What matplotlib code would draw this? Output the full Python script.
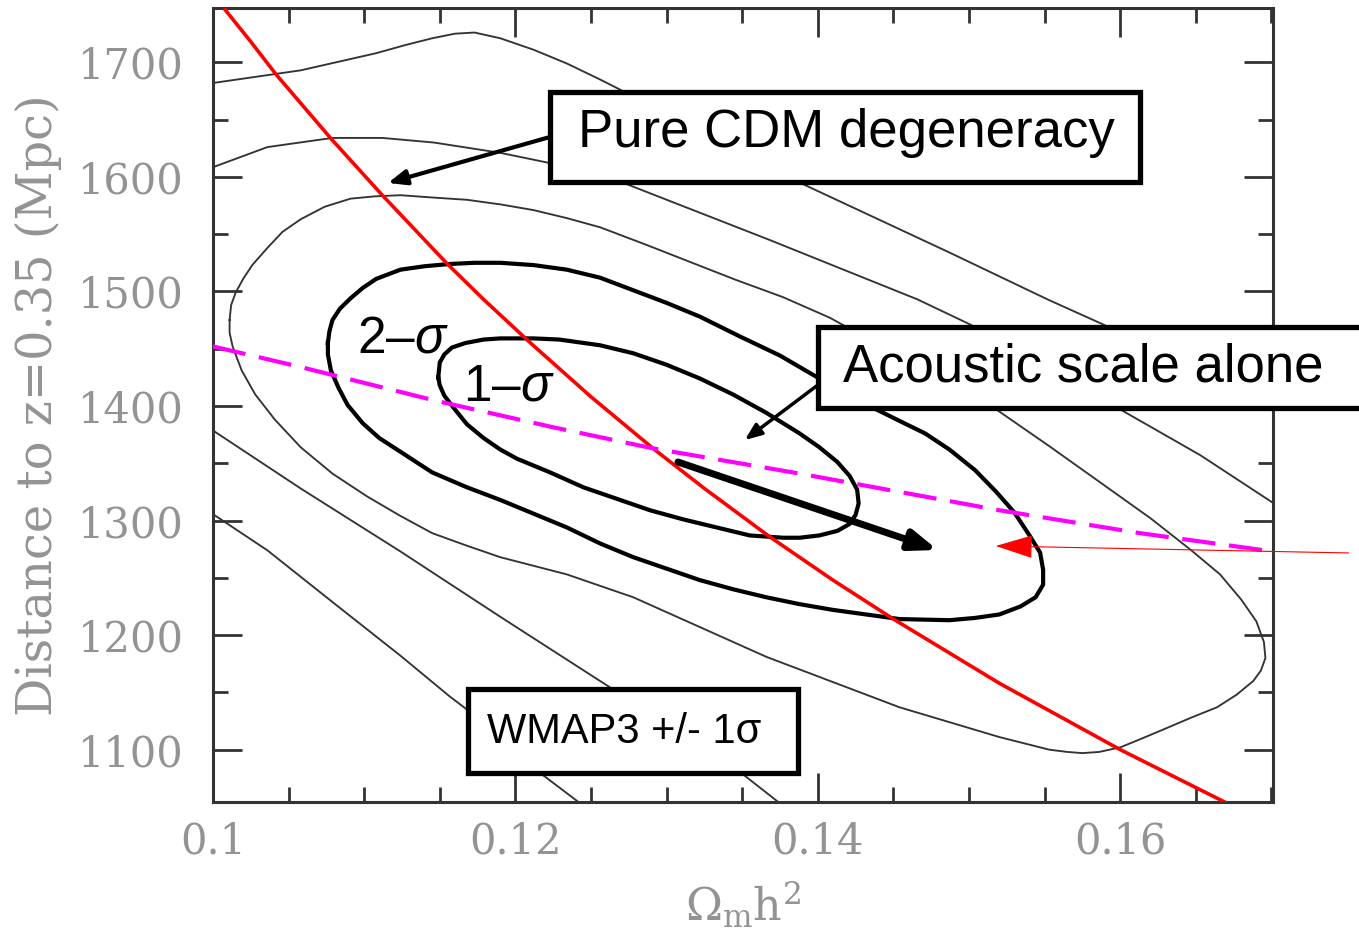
import matplotlib.pyplot as plt
from matplotlib.patches import Rectangle, FancyArrowPatch
from matplotlib.ticker import MultipleLocator

# WMAP3 likelihood contours in the (Omega_m h^2, D_V(z=0.35)) plane
sig1_x = [0.1149, 0.1150, 0.1153, 0.1158, 0.1167, 0.1179, 0.1190, 0.1212, 0.1229,
          0.1256, 0.1278, 0.1300, 0.1322, 0.1344, 0.1366, 0.1388, 0.1401, 0.1413,
          0.1421, 0.1426, 0.1427, 0.1425, 0.1421, 0.1413, 0.1401, 0.1388, 0.1377,
          0.1355, 0.1333, 0.1311, 0.1289, 0.1267, 0.1245, 0.1223, 0.1201, 0.1190,
          0.1179, 0.1168, 0.1160, 0.1153, 0.1150, 0.1149]
sig1_y = [1425, 1438, 1445, 1451, 1455, 1458, 1459, 1459, 1458,
          1453, 1446, 1436, 1424, 1410, 1394, 1376, 1364, 1351,
          1339, 1327, 1315, 1305, 1297, 1291, 1287, 1285, 1285,
          1287, 1294, 1301, 1309, 1319, 1329, 1342, 1354, 1362,
          1372, 1384, 1397, 1409, 1418, 1425]

sig2_x = [0.1076, 0.1077, 0.1079, 0.1084, 0.1091, 0.1099, 0.1108, 0.1124, 0.1140,
          0.1157, 0.1173, 0.1190, 0.1212, 0.1234, 0.1256, 0.1278, 0.1300, 0.1322,
          0.1348, 0.1375, 0.1401, 0.1428, 0.1454, 0.1471, 0.1487, 0.1504, 0.1518,
          0.1530, 0.1540, 0.1547, 0.1549, 0.1549, 0.1544, 0.1534, 0.1520, 0.1504,
          0.1487, 0.1454, 0.1432, 0.1410, 0.1388, 0.1366, 0.1344, 0.1322, 0.1300,
          0.1278, 0.1256, 0.1234, 0.1212, 0.1190, 0.1168, 0.1145, 0.1124, 0.1110,
          0.1099, 0.1089, 0.1083, 0.1078, 0.1076, 0.1076]
sig2_y = [1455, 1465, 1475, 1485, 1494, 1503, 1511, 1519, 1522,
          1524, 1525, 1525, 1523, 1519, 1512, 1501, 1490, 1478,
          1461, 1444, 1424, 1404, 1387, 1376, 1362, 1344, 1325,
          1307, 1287, 1272, 1257, 1244, 1233, 1225, 1218, 1215,
          1213, 1214, 1218, 1222, 1227, 1233, 1240, 1248, 1258,
          1268, 1280, 1294, 1306, 1318, 1329, 1342, 1360, 1372,
          1385, 1401, 1416, 1431, 1445, 1455]

sig3_x = [0.1011, 0.1012, 0.1015, 0.1020, 0.1026, 0.1036, 0.1046, 0.1058, 0.1074,
          0.1091, 0.1107, 0.1124, 0.1145, 0.1168, 0.1190, 0.1212, 0.1234, 0.1256,
          0.1286, 0.1315, 0.1346, 0.1377, 0.1408, 0.1441, 0.1481, 0.1518, 0.1553,
          0.1586, 0.1620, 0.1647, 0.1666, 0.1680, 0.1690, 0.1695, 0.1696, 0.1693,
          0.1688, 0.1677, 0.1664, 0.1647, 0.1631, 0.1613, 0.1600, 0.1586, 0.1575,
          0.1565, 0.1553, 0.1520, 0.1487, 0.1454, 0.1410, 0.1366, 0.1322, 0.1278,
          0.1234, 0.1190, 0.1168, 0.1145, 0.1124, 0.1102, 0.1079, 0.1058, 0.1041,
          0.1028, 0.1019, 0.1013, 0.1011, 0.1011]
sig3_y = [1475, 1488, 1499, 1511, 1523, 1538, 1552, 1563, 1574,
          1581, 1583, 1584, 1582, 1580, 1576, 1571, 1564, 1556,
          1541, 1526, 1510, 1495, 1477, 1453, 1424, 1397, 1365,
          1334, 1302, 1274, 1253, 1231, 1212, 1194, 1180, 1169,
          1160, 1148, 1137, 1128, 1119, 1109, 1102, 1098, 1097,
          1098, 1100, 1111, 1124, 1137, 1159, 1181, 1207, 1233,
          1253, 1268, 1278, 1289, 1304, 1321, 1341, 1364, 1388,
          1410, 1431, 1452, 1464, 1475]

# open contours running off the frame
sig4_top_x = [0.0995, 0.1036, 0.1079, 0.1112, 0.1146, 0.1190, 0.1223, 0.1271,
              0.1368, 0.1466, 0.1501, 0.1600, 0.1653, 0.1705]
sig4_top_y = [1606, 1626, 1634, 1634, 1630, 1621, 1612, 1595,
              1545, 1493, 1471, 1397, 1357, 1312]
sig4_low_x = [0.0995, 0.1058, 0.1124, 0.1190, 0.1263, 0.1349, 0.1378]
sig4_low_y = [1383, 1328, 1273, 1216, 1154, 1080, 1050]

sig5_top_x = [0.0995, 0.1058, 0.1108, 0.1127, 0.1145, 0.1160, 0.1173, 0.1190,
              0.1212, 0.1234, 0.1256, 0.1322, 0.1388, 0.1487, 0.1552, 0.1589,
              0.1653, 0.1706]
sig5_top_y = [1681, 1693, 1708, 1715, 1721, 1725, 1726, 1721,
              1711, 1699, 1685, 1641, 1595, 1534, 1493, 1471,
              1431, 1397]
sig5_low_x = [0.0995, 0.1036, 0.1077, 0.1124, 0.1157, 0.1168, 0.1216, 0.1246]
sig5_low_y = [1310, 1274, 1231, 1182, 1146, 1135, 1080, 1050]

# pure CDM degeneracy line and acoustic-scale-only line
cdm_x = [0.1008, 0.1025, 0.1042, 0.1079, 0.1112, 0.1155, 0.1179, 0.1210, 0.1250,
         0.1291, 0.1325, 0.1368, 0.1410, 0.1450, 0.1520, 0.1600, 0.1671]
cdm_y = [1746, 1718, 1689, 1632, 1584, 1524, 1493, 1455, 1408,
         1363, 1328, 1286, 1248, 1214, 1158, 1100, 1053]

acoustic_x = [0.1000, 0.1058, 0.1146, 0.1223, 0.1291, 0.1388, 0.1520, 0.1613, 0.1701]
acoustic_y = [1452, 1434, 1405, 1382, 1363, 1341, 1309, 1289, 1273]

xtick_vals = [0.10, 0.12, 0.14, 0.16]
xtick_text = ['0.1', '0.12', '0.14', '0.16']
ytick_vals = [1100, 1200, 1300, 1400, 1500, 1600, 1700]

grey = '#939393'
sans = 'Liberation Sans'

plt.rcParams['font.family'] = 'DejaVu Serif'
plt.rcParams['mathtext.fontset'] = 'custom'
plt.rcParams['mathtext.rm'] = sans
plt.rcParams['mathtext.it'] = sans + ':italic'

fig = plt.figure(figsize=(13.59, 9.33), dpi=100)
ax = fig.add_axes([0.1567, 0.1404, 0.78, 0.851])

thin = dict(color='#333333', lw=1.35, zorder=2, solid_joinstyle='round')
thick = dict(color='black', lw=3.0, zorder=2, solid_joinstyle='round')
for xs, ys in [(sig3_x, sig3_y), (sig4_top_x, sig4_top_y), (sig4_low_x, sig4_low_y),
               (sig5_top_x, sig5_top_y), (sig5_low_x, sig5_low_y)]:
    ax.plot(xs, ys, **thin)
ax.plot(sig2_x, sig2_y, **thick)
ax.plot(sig1_x, sig1_y, **thick)

ax.plot(cdm_x, cdm_y, color='red', lw=2.6, zorder=3, solid_joinstyle='round')
ax.plot(acoustic_x, acoustic_y, color='#ff00ff', lw=3, dashes=(8, 3.3), zorder=3)

ax.set_xlim(0.1, 0.1701)
ax.set_ylim(1054.3, 1747.4)
ax.set_xticks(xtick_vals, xtick_text)
ax.set_yticks(ytick_vals, [str(v) for v in ytick_vals])
ax.xaxis.set_minor_locator(MultipleLocator(0.005))
ax.yaxis.set_minor_locator(MultipleLocator(50))
ax.tick_params(which='both', direction='in', top=True, right=True, color='#333333', width=2)
ax.tick_params(which='major', length=21)
ax.tick_params(which='minor', length=10.5)
ax.tick_params(axis='x', pad=13, labelsize=30, labelcolor=grey)
ax.tick_params(axis='y', pad=21, labelsize=30, labelcolor=grey)
for s in ax.spines.values():
    s.set_linewidth(2.2)
    s.set_color('#333333')

fig.text(0.028, 0.566, 'Distance to z=0.35 (Mpc)', rotation=90, ha='center', va='center',
         fontsize=34.5, color=grey)
fig.text(0.547, 0.03, r'$\Omega_{\rm m}{\rm h}^2$', ha='center', va='center',
         fontsize=32, color=grey, math_fontfamily='dejavuserif')


def label_box(x0, y0, x1, y1):
    ax.add_patch(Rectangle((x0, y0), x1 - x0, y1 - y0, fc='white', ec='black', lw=3.8,
                           clip_on=False, zorder=10))


def arrow(tail, tip, color, lw, hl, hw):
    ax.add_patch(FancyArrowPatch(tail, tip, arrowstyle=f'-|>,head_length={hl},head_width={hw}',
                                 mutation_scale=1, color=color, lw=lw, shrinkA=0, shrinkB=0,
                                 clip_on=False, zorder=6))


label_box(0.12228, 1595.5, 0.16129, 1674.1)
ax.text(0.12413, 1626.1, 'Pure CDM degeneracy', fontsize=38, family=sans, zorder=11)
label_box(0.14000, 1398.3, 0.1765, 1469.0)
ax.text(0.14166, 1421.0, 'Acoustic scale alone', fontsize=38, family=sans, zorder=11)
label_box(0.11686, 1079.6, 0.13868, 1153.0)
ax.text(0.11812, 1105.8, 'WMAP3 +/- 1σ', fontsize=30, family=sans, zorder=11)

ax.text(0.10952, 1447.1, r'2–$\sigma$', fontsize=37, family=sans, zorder=5)
ax.text(0.11653, 1405.2, r'1–$\sigma$', fontsize=37, family=sans, zorder=5)

arrow((0.12228, 1634.8), (0.11157, 1594.7), 'black', 3, 11, 4.5)
arrow((0.14000, 1418.3), (0.13517, 1370.3), 'black', 2.5, 10, 4)
arrow((0.13075, 1351.1), (0.14793, 1274.3), 'black', 5, 16, 6)
arrow((0.17511, 1271.7), (0.15177, 1277.8), 'red', 0.8, 24, 7.5)

fig.savefig('out.png', dpi=100)
